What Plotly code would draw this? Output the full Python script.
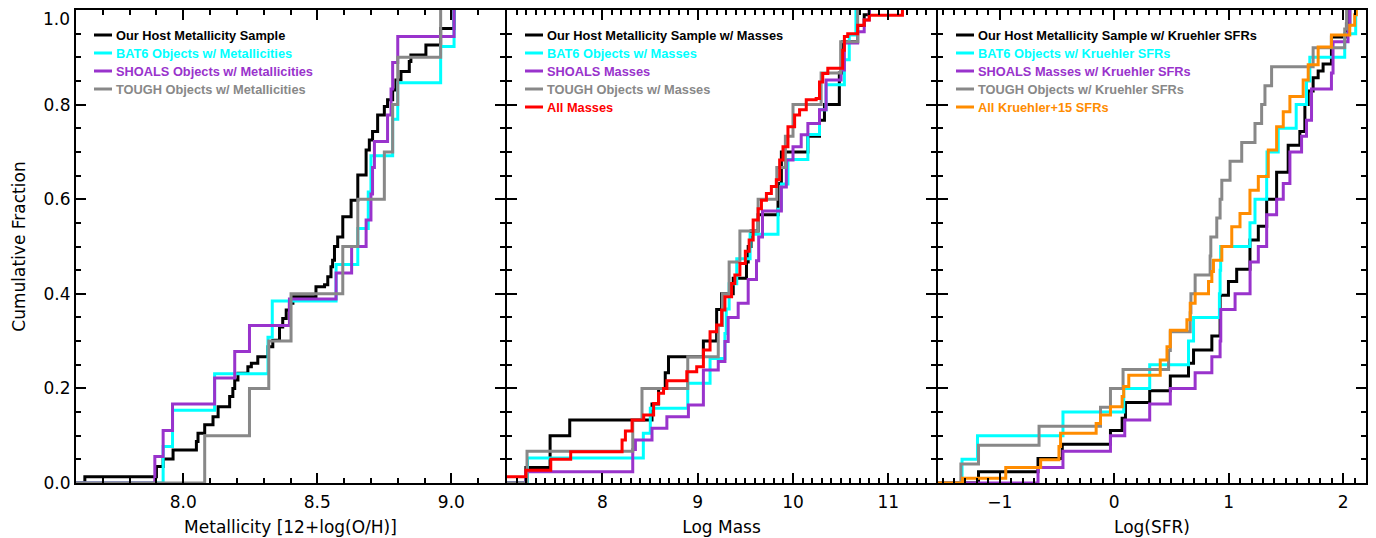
import plotly.graph_objects as go

# ------------------------------------------------------------------
# Cumulative distributions: step positions and cumulative fractions
# ------------------------------------------------------------------

# Panel 1: gas-phase metallicity 12+log(O/H)
metal_host_x = [7.633, 7.900, 7.925, 7.962, 8.049, 8.055, 8.080, 8.111, 8.130, 8.173,
                8.185, 8.192, 8.204, 8.241, 8.254, 8.278, 8.316, 8.334, 8.359, 8.371,
                8.384, 8.396, 8.409, 8.495, 8.527, 8.539, 8.551, 8.557, 8.564, 8.576,
                8.595, 8.626, 8.651, 8.682, 8.694, 8.706, 8.725, 8.750, 8.762, 8.781,
                8.793, 8.812, 8.843, 8.849, 8.905, 8.960, 9.010]
metal_host_y = [0.013, 0.035, 0.051, 0.070, 0.088, 0.105, 0.123, 0.140, 0.161, 0.183,
                0.200, 0.218, 0.232, 0.246, 0.253, 0.267, 0.288, 0.302, 0.330, 0.348,
                0.366, 0.380, 0.394, 0.415, 0.419, 0.436, 0.457, 0.471, 0.500, 0.520,
                0.563, 0.598, 0.651, 0.704, 0.725, 0.743, 0.778, 0.796, 0.810, 0.831,
                0.852, 0.870, 0.891, 0.905, 0.926, 0.961, 1.000]

metal_bat6_x = [7.925, 7.960, 8.117, 8.316, 8.332, 8.570, 8.651, 8.690, 8.700, 8.781,
                8.800, 8.960, 9.010]
metal_bat6_y = [0.077, 0.154, 0.231, 0.308, 0.385, 0.462, 0.538, 0.615, 0.692, 0.769,
                0.846, 0.923, 1.000]

metal_shoals_x = [7.894, 7.925, 7.960, 8.117, 8.192, 8.247, 8.396, 8.570, 8.628, 8.682,
                  8.700, 8.706, 8.713, 8.762, 8.775, 8.781, 8.800, 9.010]
metal_shoals_y = [0.056, 0.111, 0.167, 0.222, 0.278, 0.333, 0.389, 0.444, 0.500, 0.556,
                  0.611, 0.667, 0.722, 0.778, 0.833, 0.889, 0.944, 1.000]

metal_tough_x = [8.080, 8.247, 8.319, 8.402, 8.595, 8.651, 8.750, 8.781, 8.800, 8.960]
metal_tough_y = [0.100, 0.200, 0.300, 0.400, 0.500, 0.600, 0.700, 0.800, 0.900, 1.000]

# Panel 2: stellar mass (log M)
mass_host_x = [7.198, 7.452, 7.658, 8.521, 8.590, 8.660, 8.694, 9.060, 9.199, 9.251,
               9.373, 9.512, 9.530, 9.560, 9.634, 9.843, 9.878, 10.156, 10.278, 10.330,
               10.486, 10.520, 10.678, 10.747, 10.800]
mass_host_y = [0.033, 0.100, 0.133, 0.167, 0.200, 0.233, 0.267, 0.300, 0.367, 0.400,
               0.433, 0.467, 0.500, 0.533, 0.567, 0.633, 0.700, 0.733, 0.767, 0.800,
               0.867, 0.933, 0.967, 0.990, 1.000]

mass_bat6_x = [7.215, 8.430, 8.503, 8.896, 9.130, 9.286, 9.300, 9.330, 9.410, 9.550,
               9.843, 9.878, 9.947, 10.156, 10.278, 10.347, 10.539, 10.590, 10.660]
mass_bat6_y = [0.053, 0.105, 0.158, 0.211, 0.263, 0.316, 0.368, 0.421, 0.474, 0.526,
               0.579, 0.632, 0.684, 0.737, 0.789, 0.842, 0.895, 0.947, 1.000]

mass_shoals_x = [7.198, 8.319, 8.347, 8.521, 8.677, 8.903, 9.060, 9.216, 9.286, 9.320,
                 9.425, 9.530, 9.617, 9.640, 9.680, 9.878, 9.930, 10.000, 10.086, 10.156,
                 10.278, 10.347, 10.504, 10.539, 10.678, 10.747, 10.800]
mass_shoals_y = [0.024, 0.071, 0.091, 0.116, 0.140, 0.165, 0.239, 0.257, 0.299, 0.350,
                 0.380, 0.430, 0.470, 0.520, 0.575, 0.626, 0.683, 0.711, 0.736, 0.760,
                 0.789, 0.852, 0.873, 0.930, 0.954, 0.979, 1.000]

mass_tough_x = [7.210, 8.319, 8.416, 8.896, 9.216, 9.260, 9.330, 9.443, 9.634, 9.830,
                9.920, 10.000, 10.295, 10.500, 10.678]
mass_tough_y = [0.067, 0.133, 0.200, 0.267, 0.333, 0.400, 0.467, 0.533, 0.600, 0.667,
                0.733, 0.800, 0.867, 0.933, 1.000]

mass_all_x = [6.950, 7.198, 7.459, 7.668, 8.207, 8.242, 8.312, 8.434, 8.538, 8.590,
              8.642, 8.677, 8.886, 8.990, 9.060, 9.130, 9.199, 9.251, 9.286, 9.356,
              9.390, 9.443, 9.500, 9.540, 9.582, 9.634, 9.669, 9.721, 9.773, 9.825,
              9.860, 9.895, 9.947, 10.017, 10.069, 10.139, 10.243, 10.278, 10.312, 10.365,
              10.521, 10.539, 10.574, 10.678, 10.747, 10.800, 11.148]
mass_all_y = [0.013, 0.027, 0.050, 0.066, 0.091, 0.110, 0.133, 0.144, 0.168, 0.190,
              0.200, 0.216, 0.235, 0.246, 0.281, 0.320, 0.334, 0.366, 0.394, 0.422,
              0.440, 0.464, 0.490, 0.514, 0.556, 0.580, 0.598, 0.612, 0.627, 0.641,
              0.683, 0.711, 0.753, 0.778, 0.789, 0.810, 0.813, 0.848, 0.866, 0.877,
              0.915, 0.944, 0.950, 0.968, 0.979, 0.989, 1.000]

# Panel 3: star-formation rate, log(SFR)
sfr_host_x = [-1.186, -0.666, -0.454, -0.033, 0.069, 0.098, 0.310, 0.490, 0.649, 0.693,
              0.853, 0.925, 0.998, 1.070, 1.186, 1.259, 1.332, 1.419, 1.520, 1.622,
              1.666, 1.695, 1.738, 1.782, 1.825, 1.898, 2.029, 2.058]
sfr_host_y = [0.024, 0.052, 0.082, 0.111, 0.137, 0.170, 0.195, 0.226, 0.253, 0.281,
              0.311, 0.397, 0.426, 0.452, 0.514, 0.543, 0.600, 0.657, 0.714, 0.743,
              0.800, 0.829, 0.857, 0.871, 0.886, 0.943, 0.971, 1.000]

sfr_bat6_x = [-1.330, -1.195, -0.448, 0.083, 0.310, 0.649, 0.693, 0.919, 0.925, 0.930,
              1.186, 1.230, 1.332, 1.335, 1.433, 1.590, 1.680, 1.709, 2.014, 2.110]
sfr_bat6_y = [0.050, 0.100, 0.150, 0.200, 0.250, 0.300, 0.350, 0.400, 0.450, 0.500,
              0.550, 0.600, 0.650, 0.700, 0.750, 0.800, 0.850, 0.900, 0.950, 1.000]

sfr_shoals_x = [-0.666, -0.448, -0.033, 0.092, 0.310, 0.490, 0.707, 0.853, 0.925, 0.931,
                1.056, 1.187, 1.259, 1.332, 1.419, 1.477, 1.535, 1.637, 1.680, 1.724,
                1.898, 1.912, 2.043, 2.058]
sfr_shoals_y = [0.033, 0.067, 0.100, 0.133, 0.167, 0.200, 0.233, 0.267, 0.300, 0.367,
                0.400, 0.467, 0.500, 0.567, 0.600, 0.633, 0.700, 0.733, 0.767, 0.833,
                0.867, 0.933, 0.967, 1.000]

sfr_tough_x = [-1.340, -1.186, -0.657, -0.120, -0.033, 0.077, 0.475, 0.490, 0.664, 0.670,
               0.707, 0.838, 0.844, 0.896, 0.925, 0.940, 1.012, 1.114, 1.230, 1.288,
               1.317, 1.375, 1.738, 2.014, 2.030]
sfr_tough_y = [0.040, 0.080, 0.120, 0.160, 0.200, 0.240, 0.280, 0.320, 0.360, 0.400,
               0.440, 0.480, 0.520, 0.560, 0.600, 0.640, 0.680, 0.720, 0.760, 0.800,
               0.840, 0.880, 0.920, 0.960, 1.000]

sfr_all_x = [-1.325, -0.948, -0.643, -0.483, -0.469, -0.158, -0.120, -0.033, 0.069, 0.083,
             0.127, 0.402, 0.461, 0.490, 0.635, 0.664, 0.707, 0.824, 0.853, 0.867,
             0.940, 1.027, 1.099, 1.186, 1.259, 1.346, 1.419, 1.477, 1.535, 1.651,
             1.695, 1.782, 1.898, 2.058, 2.101, 2.116]
sfr_all_y = [0.010, 0.033, 0.049, 0.077, 0.105, 0.126, 0.144, 0.161, 0.183, 0.204,
             0.228, 0.260, 0.288, 0.323, 0.345, 0.380, 0.400, 0.426, 0.447, 0.471,
             0.500, 0.542, 0.570, 0.619, 0.648, 0.704, 0.753, 0.785, 0.817, 0.852,
             0.884, 0.922, 0.947, 0.968, 0.990, 1.000]

# Tick labels
frac_ticks = [0.0, 0.2, 0.4, 0.6, 0.8, 1.0]
metal_ticks = [8.0, 8.5, 9.0]
mass_ticks = [8, 9, 10, 11]
sfr_ticks = [-1, 0, 1, 2]

# Legend labels
metal_labels = ["Our Host Metallicity Sample", "BAT6 Objects w/ Metallicities",
                "SHOALS Objects w/ Metallicities", "TOUGH Objects w/ Metallicities"]
mass_labels = ["Our Host Metallicity Sample w/ Masses", "BAT6 Objects w/ Masses",
               "SHOALS Masses", "TOUGH Objects w/ Masses", "All Masses"]
sfr_labels = ["Our Host Metallicity Sample w/ Kruehler SFRs", "BAT6 Objects w/ Kruehler SFRs",
              "SHOALS Masses w/ Kruehler SFRs", "TOUGH Objects w/ Kruehler SFRs",
              "All Kruehler+15 SFRs"]

# ------------------------------------------------------------------
# Styling / layout
# ------------------------------------------------------------------
BLACK, CYAN, PURPLE, GRAY = "#000000", "#00FFFF", "#9933CC", "#888888"
RED, ORANGE = "#FF0000", "#FF8C00"
FONT = "DejaVu Sans"
KEY_FONT = "Liberation Sans"

W, H = 1376, 538
ML, MR, MT, MB = 76, 10, 10, 55
PW, PH = W - ML - MR, H - MT - MB
# panel extents (px inside the plot area); the 2 px gaps let the shared
# frame lines of neighbouring panels fall on top of each other
panel_px = [(0, 429), (431, 860), (862, PW)]

panels = [
    dict(ax="", rng=[7.6, 9.2], ticks=metal_ticks, fmt=".1f", minor0=8.0,
         title="Metallicity [12+log(O/H)]",
         series=[(metal_host_x, metal_host_y, BLACK), (metal_bat6_x, metal_bat6_y, CYAN),
                 (metal_shoals_x, metal_shoals_y, PURPLE), (metal_tough_x, metal_tough_y, GRAY)],
         labels=metal_labels),
    dict(ax="2", rng=[7.0, 11.5], ticks=mass_ticks, fmt="d", minor0=8.0,
         title="Log Mass",
         series=[(mass_host_x, mass_host_y, BLACK), (mass_bat6_x, mass_bat6_y, CYAN),
                 (mass_shoals_x, mass_shoals_y, PURPLE), (mass_tough_x, mass_tough_y, GRAY),
                 (mass_all_x, mass_all_y, RED)],
         labels=mass_labels),
    dict(ax="3", rng=[-1.54, 2.2], ticks=sfr_ticks, fmt="d", minor0=0.0,
         title="Log(SFR)",
         series=[(sfr_host_x, sfr_host_y, BLACK), (sfr_bat6_x, sfr_bat6_y, CYAN),
                 (sfr_shoals_x, sfr_shoals_y, PURPLE), (sfr_tough_x, sfr_tough_y, GRAY),
                 (sfr_all_x, sfr_all_y, ORANGE)],
         labels=sfr_labels),
]

fig = go.Figure()
layout = dict(
    width=W, height=H, autosize=False,
    margin=dict(l=ML, r=MR, t=MT, b=MB, pad=0),
    paper_bgcolor="white", plot_bgcolor="white",
    font=dict(family=FONT, size=17, color="black"),
    showlegend=False,
)
annotations, shapes = [], []


def px_to_paper_x(px):
    return px / PW


def py_to_paper_y(py):
    return (H - MB - py) / PH


def fmt_tick(v, fmt):
    return f"{v:.1f}" if fmt == ".1f" else f"{int(v)}".replace("-", "\u2212")


axis_common = dict(
    ticks="inside", ticklen=10, tickwidth=2, tickcolor="black",
    showline=True, linewidth=2, linecolor="black", mirror="allticks",
    showgrid=False, zeroline=False, automargin=False,
    tickfont=dict(size=17),
)

for i, p in enumerate(panels):
    ax = p["ax"]
    xref, yref = "x" + ax, "y" + ax
    for xs, ys, col in p["series"]:
        fig.add_trace(go.Scatter(
            x=[p["rng"][0]] + list(xs), y=[0.0] + list(ys),
            mode="lines", line=dict(shape="hv", width=3, color=col),
            xaxis=xref, yaxis=yref, hoverinfo="skip", showlegend=False))

    lo_px, hi_px = panel_px[i]
    layout["xaxis" + ax] = dict(
        axis_common,
        domain=[lo_px / PW, hi_px / PW], range=p["rng"], anchor=yref,
        tickmode="array", tickvals=p["ticks"],
        ticktext=[fmt_tick(v, p["fmt"]) for v in p["ticks"]],
        ticklabelstandoff=3,
        minor=dict(tickmode="linear", dtick=0.1, tick0=p["minor0"], ticks="inside",
                   ticklen=5, tickwidth=1.5, tickcolor="black", showgrid=False),
        title=dict(text=p["title"], font=dict(size=17), standoff=10),
    )
    # the top "1.0" label sits just below the frame, so it is written separately
    layout["yaxis" + ax] = dict(
        axis_common,
        domain=[0, 1], range=[0, 1], anchor=xref,
        tickmode="array", tickvals=frac_ticks,
        ticktext=[f"{v:.1f}" for v in frac_ticks[:-1]] + [""],
        minor=dict(tickmode="linear", dtick=0.05, tick0=0, ticks="inside",
                   ticklen=5, tickwidth=1.5, tickcolor="black", showgrid=False),
        showticklabels=(i == 0),
        title=dict(text="Cumulative Fraction" if i == 0 else "",
                   font=dict(size=17), standoff=14),
    )

    # in-panel key: short line sample followed by coloured text
    for k, ((_, _, col), lab) in enumerate(zip(p["series"], p["labels"])):
        row_py = 35 + 18 * k
        yy = py_to_paper_y(row_py)
        shapes.append(dict(type="line", xref="paper", yref="paper",
                           x0=px_to_paper_x(lo_px + 18), x1=px_to_paper_x(lo_px + 36),
                           y0=yy, y1=yy, line=dict(color=col, width=3)))
        annotations.append(dict(text="<b>" + lab + "</b>", xref="paper", yref="paper",
                                x=px_to_paper_x(lo_px + 38), y=yy,
                                xanchor="left", yanchor="middle", showarrow=False,
                                font=dict(family=KEY_FONT, size=12.8, color=col)))

annotations.append(dict(text=f"{frac_ticks[-1]:.1f}", xref="paper", yref="paper",
                        x=px_to_paper_x(-4), y=py_to_paper_y(19),
                        xanchor="right", yanchor="middle", showarrow=False,
                        font=dict(family=FONT, size=17, color="black")))

layout["annotations"] = annotations
layout["shapes"] = shapes
fig.update_layout(**layout)

fig.write_html("out.html")
